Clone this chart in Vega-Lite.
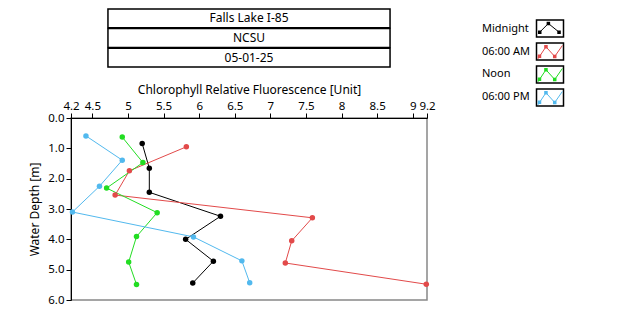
{
  "$schema": "https://vega.github.io/schema/vega-lite/v6.json",
  "padding": {"left": 28, "top": 8, "right": 5, "bottom": 5},
  "background": "white",
  "config": {
    "font": "Noto Sans",
    "view": {"stroke": null},
    "axis": {"labelFontSize": 11.5, "labelColor": "black", "titleFontSize": 12, "titleFontWeight": "normal", "titleColor": "black", "domainColor": "black", "tickColor": "black", "grid": false, "tickSize": 5, "labelFont": "Noto Sans", "titleFont": "Noto Sans", "labelOverlap": false, "labelBound": false, "labelFlush": false},
    "text": {"font": "Noto Sans", "fontSize": 12, "color": "black"}
  },
  "datasets": {
    "profiles": [
      {"series": "Midnight", "value": 5.20, "depth": 0.84},
      {"series": "Midnight", "value": 5.30, "depth": 1.66},
      {"series": "Midnight", "value": 5.30, "depth": 2.45},
      {"series": "Midnight", "value": 6.30, "depth": 3.24},
      {"series": "Midnight", "value": 5.81, "depth": 4.00},
      {"series": "Midnight", "value": 6.20, "depth": 4.72},
      {"series": "Midnight", "value": 5.91, "depth": 5.44},
      {"series": "06:00 AM", "value": 5.82, "depth": 0.95},
      {"series": "06:00 AM", "value": 5.02, "depth": 1.74},
      {"series": "06:00 AM", "value": 4.82, "depth": 2.54},
      {"series": "06:00 AM", "value": 7.59, "depth": 3.29},
      {"series": "06:00 AM", "value": 7.30, "depth": 4.05},
      {"series": "06:00 AM", "value": 7.21, "depth": 4.78},
      {"series": "06:00 AM", "value": 9.19, "depth": 5.48},
      {"series": "Noon", "value": 4.92, "depth": 0.63},
      {"series": "Noon", "value": 5.21, "depth": 1.47},
      {"series": "Noon", "value": 4.70, "depth": 2.31},
      {"series": "Noon", "value": 5.41, "depth": 3.12},
      {"series": "Noon", "value": 5.12, "depth": 3.91},
      {"series": "Noon", "value": 5.01, "depth": 4.75},
      {"series": "Noon", "value": 5.12, "depth": 5.49},
      {"series": "06:00 PM", "value": 4.41, "depth": 0.59},
      {"series": "06:00 PM", "value": 4.92, "depth": 1.39},
      {"series": "06:00 PM", "value": 4.60, "depth": 2.25},
      {"series": "06:00 PM", "value": 4.22, "depth": 3.10},
      {"series": "06:00 PM", "value": 5.92, "depth": 3.92},
      {"series": "06:00 PM", "value": 6.60, "depth": 4.71},
      {"series": "06:00 PM", "value": 6.71, "depth": 5.43}
    ],
    "header": [
      {"line": "Falls Lake I-85"},
      {"line": "NCSU"},
      {"line": "05-01-25"}
    ],
    "series": [
      {"series": "Midnight"},
      {"series": "06:00 AM"},
      {"series": "Noon"},
      {"series": "06:00 PM"}
    ]
  },
  "spacing": 46,
  "hconcat": [
    {
      "spacing": 14,
      "vconcat": [
        {
          "width": 356,
          "height": 58,
          "data": {"name": "header"},
          "encoding": {
            "y": {"field": "line", "type": "nominal", "sort": null, "scale": {"type": "band", "paddingInner": 0.04, "paddingOuter": 0}, "axis": null},
            "x": {"datum": "box", "type": "nominal", "scale": {"type": "band", "paddingInner": 0, "paddingOuter": 0.131}, "axis": null}
          },
          "layer": [
            {"mark": {"type": "rect", "fill": "white", "stroke": "black", "strokeWidth": 1.5}},
            {"mark": {"type": "text", "align": "center", "baseline": "middle"}, "encoding": {"text": {"field": "line"}}}
          ]
        },
        {
          "width": 356,
          "height": 182,
          "view": {"stroke": "#888888", "strokeWidth": 1.5},
          "data": {"name": "profiles"},
          "encoding": {
            "x": {"field": "value", "type": "quantitative", "scale": {"domain": [4.2, 9.2], "zero": false, "nice": false},
              "axis": {"orient": "top", "values": [4.2, 4.5, 5, 5.5, 6, 6.5, 7, 7.5, 8, 8.5, 9, 9.2], "format": "~g", "title": "Chlorophyll Relative Fluorescence [Unit]", "titlePadding": 4, "labelPadding": 2}},
            "y": {"field": "depth", "type": "quantitative", "scale": {"domain": [0, 6], "reverse": true, "nice": false, "zero": false},
              "axis": {"values": [0, 1, 2, 3, 4, 5, 6], "format": ".1f", "title": "Water Depth [m]", "titlePadding": 6, "labelPadding": 2}},
            "color": {"field": "series", "type": "nominal", "scale": {"domain": ["Midnight", "06:00 AM", "Noon", "06:00 PM"], "range": ["#000000", "#E24A4A", "#22DD22", "#52B9EE"]}, "legend": null}
          },
          "layer": [
            {"mark": {"type": "line", "strokeWidth": 1}, "encoding": {"order": {"field": "depth", "type": "quantitative"}}},
            {"mark": {"type": "point", "filled": true, "shape": "circle", "size": 30, "opacity": 1}}
          ]
        }
      ]
    },
    {
      "width": 68,
      "height": 108,
      "data": {"name": "series"},
      "encoding": {
        "y": {"field": "series", "type": "nominal", "sort": null, "scale": {"type": "point", "padding": 0.848}, "axis": null},
        "x": {"datum": "label", "type": "nominal", "scale": {"type": "point", "domain": ["label", "sym"], "padding": 0}, "axis": null}
      },
      "layer": [
        {"mark": {"type": "text", "align": "left", "baseline": "middle", "fontSize": 11}, "encoding": {"text": {"field": "series"}}},
        {"mark": {"type": "point", "filled": true, "fill": "white", "stroke": "black", "strokeWidth": 1.5, "size": 729, "opacity": 1, "shape": "M-1,-0.63L1,-0.63L1,0.63L-1,0.63Z"}, "encoding": {"x": {"datum": "sym", "type": "nominal"}}},
        {"mark": {"type": "point", "filled": false, "strokeWidth": 1, "size": 729, "opacity": 1},
          "encoding": {
            "x": {"datum": "sym", "type": "nominal"},
            "stroke": {"field": "series", "type": "nominal", "scale": {"domain": ["Midnight", "06:00 AM", "Noon", "06:00 PM"], "range": ["#000000", "#E24A4A", "#22DD22", "#52B9EE"]}, "legend": null},
            "shape": {"field": "series", "type": "nominal", "scale": {"domain": ["Midnight", "06:00 AM", "Noon", "06:00 PM"], "range": ["M-0.76,0.27L-0.12,-0.37L0.67,0.27", "M-0.9,0.55L-0.3,-0.35L0.35,0.37L0.92,-0.45", "M-0.9,0.55L-0.3,-0.35L0.35,0.37L0.92,-0.45", "M-0.9,0.55L-0.3,-0.35L0.35,0.37L0.92,-0.45"]}, "legend": null}
          }},
        {"mark": {"type": "point", "filled": true, "strokeWidth": 0, "size": 729, "opacity": 1},
          "encoding": {
            "x": {"datum": "sym", "type": "nominal"},
            "fill": {"field": "series", "type": "nominal", "scale": {"domain": ["Midnight", "06:00 AM", "Noon", "06:00 PM"], "range": ["#000000", "#E24A4A", "#22DD22", "#52B9EE"]}, "legend": null},
            "shape": {"field": "series", "type": "nominal", "scale": {"domain": ["Midnight", "06:00 AM", "Noon", "06:00 PM"], "range": ["M-0.89,0.14L-0.63,0.14L-0.63,0.4L-0.89,0.4Z M-0.25,-0.5L0.01,-0.5L0.01,-0.24L-0.25,-0.24Z M0.54,0.14L0.8,0.14L0.8,0.4L0.54,0.4Z", "M-0.91,0.22L-0.65,0.22L-0.65,0.48L-0.91,0.48Z M-0.43,-0.48L-0.17,-0.48L-0.17,-0.22L-0.43,-0.22Z M0.22,0.24L0.48,0.24L0.48,0.5L0.22,0.5Z", "M-0.91,0.22L-0.65,0.22L-0.65,0.48L-0.91,0.48Z M-0.43,-0.48L-0.17,-0.48L-0.17,-0.22L-0.43,-0.22Z M0.22,0.24L0.48,0.24L0.48,0.5L0.22,0.5Z", "M-0.91,0.22L-0.65,0.22L-0.65,0.48L-0.91,0.48Z M-0.43,-0.48L-0.17,-0.48L-0.17,-0.22L-0.43,-0.22Z M0.22,0.24L0.48,0.24L0.48,0.5L0.22,0.5Z"]}, "legend": null}
          }}
      ],
      "resolve": {"scale": {"shape": "independent"}}
    }
  ]
}
